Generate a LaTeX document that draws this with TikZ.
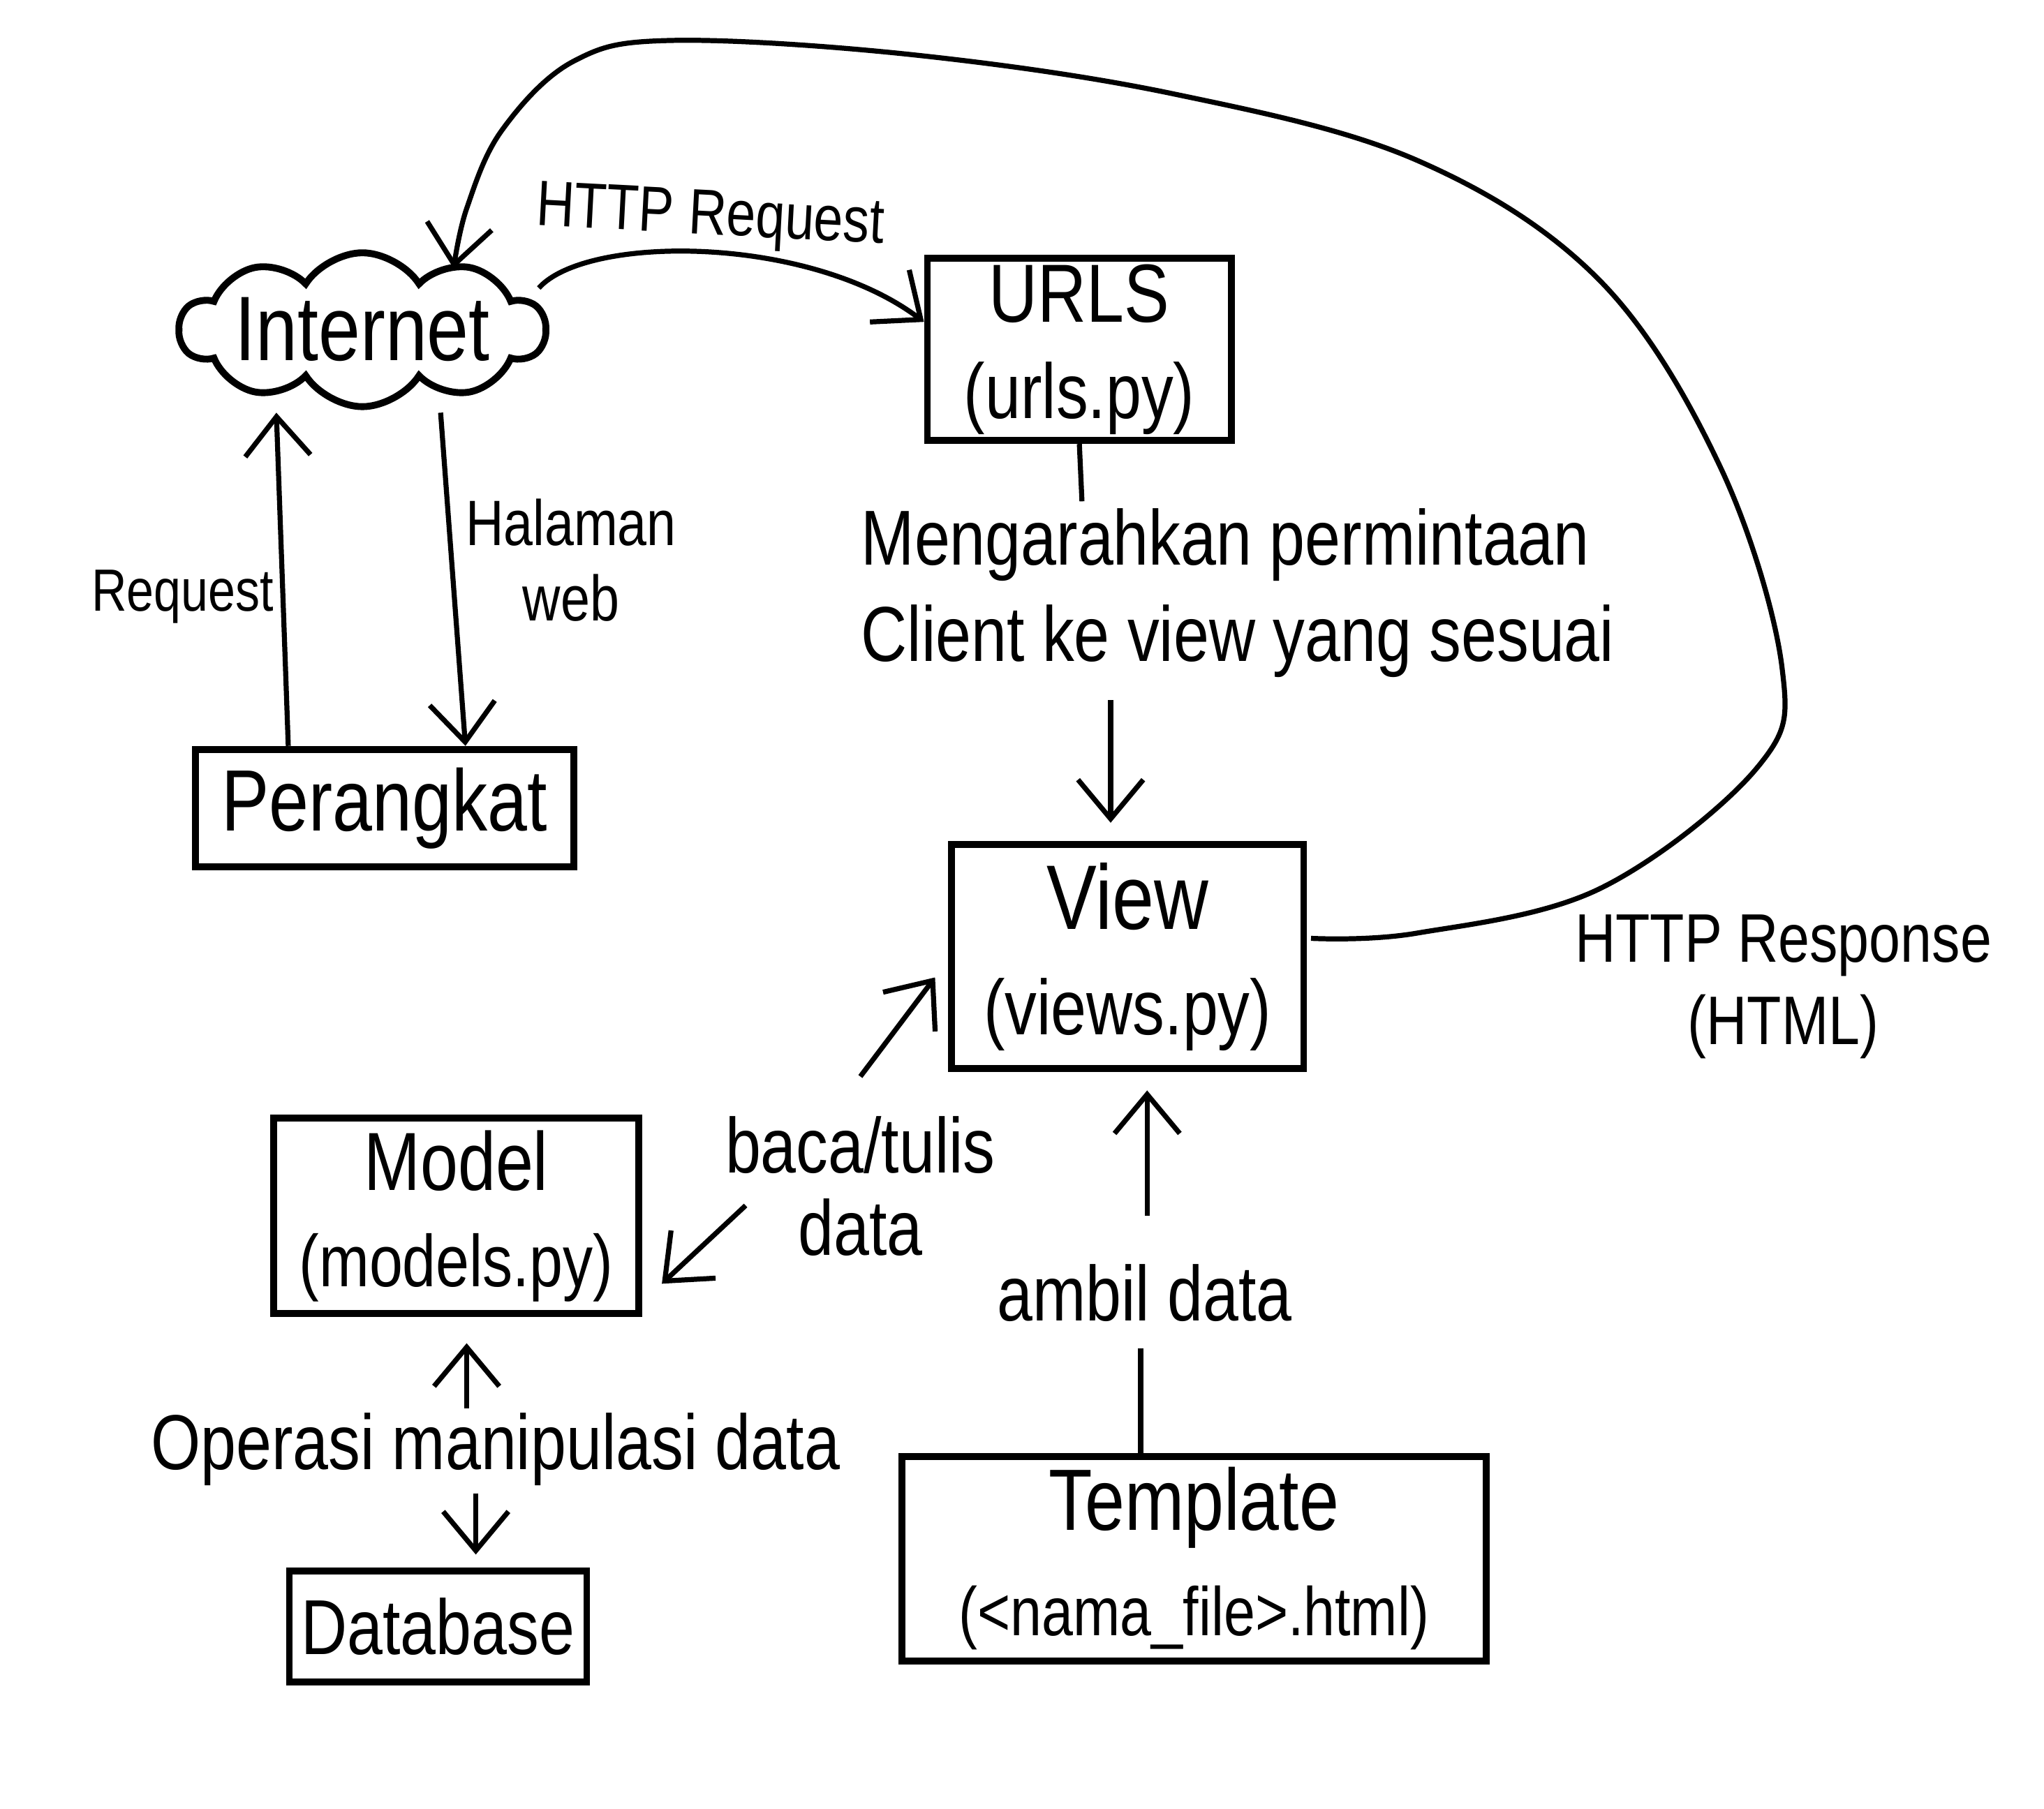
\documentclass[tikz,border=0pt]{standalone}
\usepackage{fontspec}
\setmainfont{Liberation Sans}[FakeStretch=0.82]
\usetikzlibrary{arrows.meta,shapes.symbols,calc}
\tikzset{
  box/.style={draw, line width=1.5pt, align=center, inner sep=0pt},
  conn/.style={line width=1.1pt, -{Straight Barb[length=3mm,width=5mm,line width=1.1pt]}},
  plain/.style={line width=1.1pt},
  lbl/.style={align=center, inner sep=0pt, font=\fontsize{17}{21}\selectfont},
}
\begin{document}
\begin{tikzpicture}[x=0.01cm,y=-0.01cm]
\useasboundingbox (0,0) rectangle (1568,1388);
\fill[white] (0,0) rectangle (1568,1388);

% nodes
\node[cloud, draw, line width=1.5pt, cloud puffs=10, cloud puff arc=115, cloud ignores aspect,
      minimum width=2.8cm, minimum height=1.18cm, inner sep=0pt] (inet) at (278,253) {};
\node[inner sep=0pt, font=\fontsize{20}{24}\selectfont] (inettxt) at (inet.center) {Internet};

\node[box, minimum width=2.33cm, minimum height=1.4cm, font=\fontsize{17}{21}\selectfont] (urls) at (828,268)
  {\fontsize{18}{21}\selectfont URLS\\\fontsize{17}{21}\selectfont (urls.py)};
\node[box, minimum width=2.9cm, minimum height=0.9cm, font=\fontsize{19}{23}\selectfont] (dev) at (295,620) {Perangkat};
\node[box, minimum width=2.7cm, minimum height=1.72cm, font=\fontsize{17}{23}\selectfont] (view) at (865,734)
  {\fontsize{20}{23}\selectfont View\\\fontsize{17}{23}\selectfont (views.py)};
\node[box, minimum width=2.8cm, minimum height=1.5cm, font=\fontsize{16}{21}\selectfont] (model) at (350,933)
  {\fontsize{18}{21}\selectfont Model\\\fontsize{16}{21}\selectfont (models.py)};
\node[box, minimum width=2.28cm, minimum height=0.85cm, font=\fontsize{17}{21}\selectfont] (db) at (336,1248) {Database};
\node[box, minimum width=4.48cm, minimum height=1.57cm, font=\fontsize{15}{23}\selectfont] (tpl) at (916,1196)
  {\fontsize{19}{23}\selectfont Template\\\fontsize{15}{23}\selectfont (<nama\_file>.html)};

% labels
\node[lbl, font=\fontsize{14}{17}\selectfont, rotate=-3] (lhreq) at (545,168) {HTTP Request};
\node[lbl, font=\fontsize{13}{16}\selectfont] (lreq) at (140,458) {Request};
\node[lbl, font=\fontsize{14}{16.5}\selectfont] (lhal) at (438,430) {Halaman\\web};
\node[lbl, align=left, anchor=west] (lmen) at (660,455) {Mengarahkan permintaan\\Client ke view yang sesuai};
\node[lbl, font=\fontsize{15}{18}\selectfont] (lresp) at (1368,757) {HTTP Response\\(HTML)};
\node[lbl, font=\fontsize{17}{18}\selectfont] (lbaca) at (660,910) {baca/tulis\\data};
\node[lbl] (lamb) at (878,992) {ambil data};
\node[lbl] (lop) at (380,1112) {Operasi manipulasi data};

% coordinates for free ends
\coordinate (hrS) at ($(inet.east)+(-8,-32)$);
\coordinate (rqS) at ($(dev.north west)!0.25!(dev.north east)$);
\coordinate (rqT) at ($(inet.south)+(-66,2)$);
\coordinate (hwS) at ($(inet.south)+(60,2)$);
\coordinate (hwT) at ($(dev.north west)!0.71!(dev.north east)$);
\coordinate (m1) at ($(urls.south)+(2,44)$);
\coordinate (m2) at ($(view.north)+(-13,-108)$);
\coordinate (m3) at ($(view.north)+(-13,-14)$);
\coordinate (rsS) at ($(view.east)+(3,-14)$);
\coordinate (rsT) at (348,206);
\coordinate (b1S) at (660,826);
\coordinate (b1T) at ($(view.west)+(-10,16)$);
\coordinate (b2S) at (572,925);
\coordinate (b2T) at ($(model.east)+(15,52)$);
\coordinate (a1) at ($(tpl.north)+(-41,0)$);
\coordinate (a2) at ($(tpl.north)+(-41,-80)$);
\coordinate (a3) at ($(view.south)+(15,110)$);
\coordinate (a4) at ($(view.south)+(15,14)$);
\coordinate (o1) at ($(model.south)+(8,70)$);
\coordinate (o2) at ($(model.south)+(8,20)$);
\coordinate (o3) at ($(db.north)+(29,-57)$);
\coordinate (o4) at ($(db.north)+(29,-10)$);

% connectors
\draw[conn] (hrS) .. controls (450,180) and (620,180) .. (urls.170);
\draw[conn] (rqS) -- (rqT);
\draw[conn] (hwS) -- (hwT);
\draw[plain] (urls.south) -- (m1);
\draw[conn] (m2) -- (m3);
\draw[conn] plot[smooth, tension=0.6] coordinates {(rsS) (1087,716) (1227,682) (1348,589) (1367,512) (1320,359) (1227,215) (1087,123) (900,72) (700,42) (517,31) (440,47) (385,100) (358,160) (rsT)};
\draw[conn] (b1S) -- (b1T);
\draw[conn] (b2S) -- (b2T);
\draw[plain] (a1) -- (a2);
\draw[conn] (a3) -- (a4);
\draw[conn] (o1) -- (o2);
\draw[conn] (o3) -- (o4);
\end{tikzpicture}
\end{document}
